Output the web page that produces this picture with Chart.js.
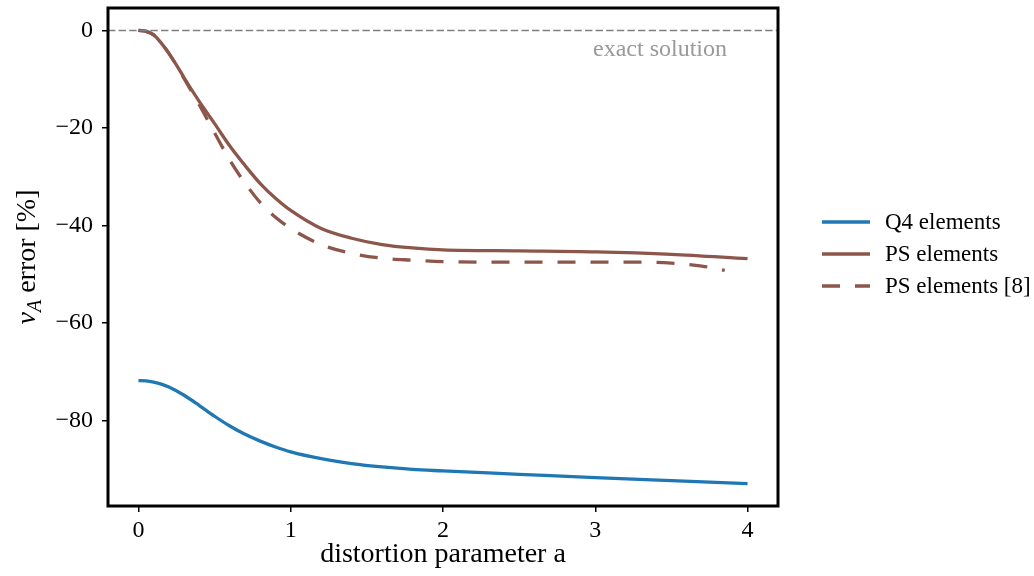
<!DOCTYPE html>
<html>
<head>
<meta charset="utf-8">
<script src="https://cdn.jsdelivr.net/npm/chart.js@4.4.0/dist/chart.umd.min.js"></script>
<style>
  html, body { margin: 0; padding: 0; background: #fff; }
</style>
</head>
<body>
<canvas id="errChart" width="1034" height="576"></canvas>
<script>
// v_A error [%] against the distortion parameter a
const aQ4 = [0, 0.05, 0.1, 0.15, 0.2, 0.3, 0.4, 0.5, 0.6, 0.7, 0.8, 0.9, 1.0, 1.2, 1.4, 1.6, 1.8, 2.0, 2.5, 3.0, 3.5, 4.0];
const errQ4 = [-71.8, -71.85, -72.1, -72.5, -73.1, -74.8, -76.9, -79.1, -81.1, -82.8, -84.2, -85.4, -86.4, -87.8, -88.8, -89.5, -90.0, -90.3, -91.0, -91.7, -92.3, -92.9];

const aPS = [0, 0.05, 0.1, 0.15, 0.2, 0.25, 0.3, 0.4, 0.5, 0.6, 0.7, 0.8, 0.9, 1.0, 1.2, 1.4, 1.6, 1.8, 2.0, 2.5, 3.0, 3.5, 4.0];
const errPS = [0, -0.2, -0.9, -2.6, -4.7, -7.1, -9.7, -14.6, -19.1, -23.7, -27.7, -31.4, -34.4, -36.9, -40.6, -42.6, -43.9, -44.6, -45.0, -45.2, -45.4, -45.9, -46.8];

const aRef = [0, 0.05, 0.1, 0.15, 0.2, 0.25, 0.3, 0.4, 0.5, 0.6, 0.7, 0.8, 0.9, 1.0, 1.2, 1.4, 1.6, 1.8, 2.0, 2.5, 3.0, 3.3, 3.5, 3.7, 3.85];
const errRef = [0, -0.2, -0.9, -2.6, -4.7, -7.2, -9.9, -15.3, -21.0, -26.6, -31.3, -35.3, -38.3, -40.6, -43.9, -45.7, -46.7, -47.1, -47.4, -47.5, -47.5, -47.5, -47.7, -48.3, -49.2];

// exact solution reference line
const exactA = [-0.2, 4.2];
const exactErr = [0, 0];

const seriesLabels = ['Q4 elements', 'PS elements', 'PS elements [8]'];
const xTicks = [0, 1, 2, 3, 4];
const yTicks = [-80, -60, -40, -20, 0];

const serif = "'Liberation Serif', 'Times New Roman', serif";

function toPoints(xs, ys) {
    return xs.map((x, i) => ({ x: x, y: ys[i] }));
}

// frame, "exact solution" note, y title with subscript and the legend
const decorPlugin = {
    id: 'decor',
    afterDatasetsDraw(chart) {
        const { ctx, chartArea: ca, scales } = chart;
        ctx.save();
        ctx.font = '24px ' + serif;
        ctx.fillStyle = '#999999';
        ctx.textAlign = 'right';
        ctx.textBaseline = 'alphabetic';
        ctx.fillText('exact solution', scales.x.getPixelForValue(3.865), scales.y.getPixelForValue(-5.2));

        ctx.strokeStyle = '#000';
        ctx.lineWidth = 3;
        ctx.strokeRect(ca.left, ca.top, ca.right - ca.left, ca.bottom - ca.top);
        ctx.restore();
    },
    afterDraw(chart) {
        const ctx = chart.ctx;

        // y axis title: v_A error [%]
        ctx.save();
        ctx.translate(35, 257);
        ctx.rotate(-Math.PI / 2);
        ctx.fillStyle = '#000';
        ctx.textAlign = 'left';
        ctx.textBaseline = 'alphabetic';
        const parts = [
            ['v', 'italic 28px ' + serif, 0],
            ['A', 'italic 20px ' + serif, 6],
            [' error [%]', '28px ' + serif, 0]
        ];
        let total = 0;
        parts.forEach(p => { ctx.font = p[1]; total += ctx.measureText(p[0]).width; });
        let x = -total / 2;
        parts.forEach(p => {
            ctx.font = p[1];
            ctx.fillText(p[0], x, p[2]);
            x += ctx.measureText(p[0]).width;
        });
        ctx.restore();

        // legend
        ctx.save();
        ctx.font = '23px ' + serif;
        ctx.textAlign = 'left';
        ctx.textBaseline = 'middle';
        let rowY = 222;
        chart.data.datasets.forEach(ds => {
            if (!ds.label) return;
            ctx.strokeStyle = ds.borderColor;
            ctx.lineWidth = ds.borderWidth;
            ctx.setLineDash(ds.borderDash || []);
            ctx.beginPath();
            ctx.moveTo(822, rowY);
            ctx.lineTo(870, rowY);
            ctx.stroke();
            ctx.setLineDash([]);
            ctx.fillStyle = '#000';
            ctx.fillText(ds.label, 885, rowY + 1);
            rowY += 32;
        });
        ctx.restore();
    }
};

const tickFont = { family: serif, size: 24 };
const titleFont = { family: serif, size: 28 };

new Chart(document.getElementById('errChart'), {
    type: 'line',
    data: {
        datasets: [
            {
                label: '',
                data: toPoints(exactA, exactErr),
                borderColor: '#808080',
                borderWidth: 1.4,
                borderDash: [7.4, 3.2],
                pointRadius: 0
            },
            {
                label: seriesLabels[0],
                data: toPoints(aQ4, errQ4),
                borderColor: '#1f77b4',
                borderWidth: 3.3,
                pointRadius: 0,
                cubicInterpolationMode: 'monotone'
            },
            {
                label: seriesLabels[1],
                data: toPoints(aPS, errPS),
                borderColor: '#8c564b',
                borderWidth: 3.3,
                pointRadius: 0,
                cubicInterpolationMode: 'monotone'
            },
            {
                label: seriesLabels[2],
                data: toPoints(aRef, errRef),
                borderColor: '#8c564b',
                borderWidth: 3.3,
                borderDash: [18, 15],
                pointRadius: 0,
                cubicInterpolationMode: 'monotone'
            }
        ]
    },
    options: {
        responsive: false,
        animation: false,
        layout: { padding: { top: 8, right: 256, left: 0, bottom: 0 } },
        plugins: {
            legend: { display: false },
            tooltip: { enabled: false }
        },
        scales: {
            x: {
                type: 'linear',
                min: -0.2, max: 4.2,
                afterBuildTicks: s => { s.ticks = xTicks.map(v => ({ value: v })); },
                afterFit: s => { s.height = 70; s.paddingLeft = 0; s.paddingRight = 0; },
                grid: { drawOnChartArea: false, drawTicks: true, tickLength: 6, color: '#000', lineWidth: 1.5 },
                border: { display: false },
                ticks: { font: tickFont, color: '#000', padding: 4, maxRotation: 0 },
                title: { display: true, text: 'distortion parameter a', font: titleFont, color: '#000', padding: { top: 0, bottom: 5 } }
            },
            y: {
                type: 'linear',
                min: -97.5, max: 4.6,
                afterBuildTicks: s => { s.ticks = yTicks.map(v => ({ value: v })); },
                afterFit: s => { s.width = 108; s.paddingTop = 0; s.paddingBottom = 0; },
                grid: { drawOnChartArea: false, drawTicks: true, tickLength: 6, color: '#000', lineWidth: 1.5 },
                border: { display: false },
                ticks: {
                    font: tickFont, color: '#000', padding: 9,
                    callback: v => v < 0 ? '\u2212' + Math.abs(v) : String(v)
                }
            }
        }
    },
    plugins: [decorPlugin]
});
</script>
</body>
</html>
